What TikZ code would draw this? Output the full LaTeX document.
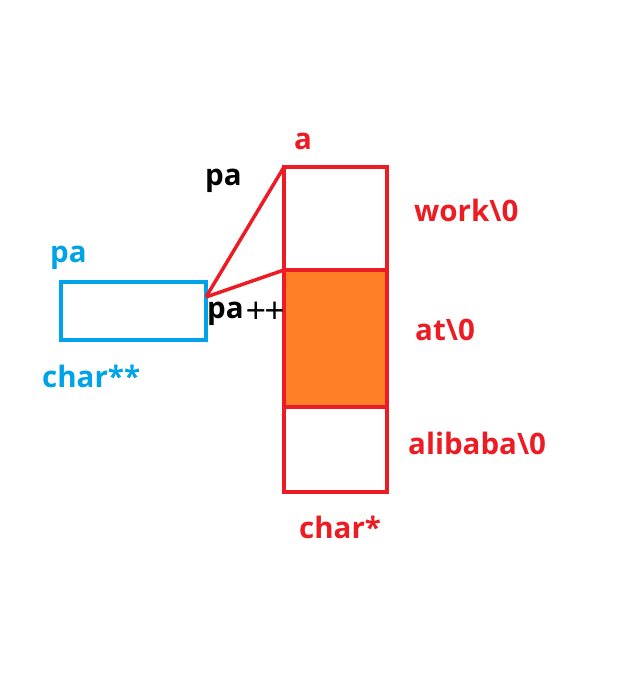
\documentclass[tikz,border=0pt]{standalone}
\usepackage{fontspec}
\setmainfont{Open Sans}
\usetikzlibrary{positioning}
\definecolor{paintred}{RGB}{237,28,36}
\definecolor{paintorange}{RGB}{255,127,39}
\definecolor{paintblue}{RGB}{0,162,232}
\newcommand{\plusplus}{{\mdseries\fontsize{36}{36}\selectfont\raisebox{-5pt}{+\hspace{-2pt}+}}}
\tikzset{
  cell/.style    ={draw=paintred, line width=4pt, minimum width=103pt, inner sep=0pt, outer sep=0pt, anchor=north west},
  ptrbox/.style  ={draw=paintblue, line width=4pt, minimum width=145pt, minimum height=58pt, inner sep=0pt, outer sep=0pt, anchor=north west},
  link/.style    ={draw=paintred, line width=3.5pt},
  lbl/.style     ={font=\bfseries\fontsize{29.5}{31}\selectfont, inner sep=0pt, anchor=base west},
}
\begin{document}
\begin{tikzpicture}[x=1pt,y=-1pt]
\useasboundingbox (0,0) rectangle (617,685);

% char* array
\node[cell,minimum height=103pt] (c0) at (284,167) {};
\node[cell,minimum height=137pt,fill=paintorange] (c1) at (284,270) {};
\node[cell,minimum height=85pt] (c2) at (284,407) {};

% char** pointer
\node[ptrbox] (p) at (61,282) {};
\coordinate (pe) at (206,297);
\draw[link] (pe) -- (c0.north west);
\draw[link] (pe) -- (c1.north west);

% labels
\node[lbl,text=paintred] (la) at (294,149) {a};
\node[lbl] (lpa) at (205,185) {pa};
\node[lbl,text=paintred] (lw) at (414,221) {work\textbackslash 0};
\node[lbl,text=paintblue] (lpb) at (50,262) {pa};
\node[lbl] (lpp) at (207,318) {pa\hspace{2pt}\plusplus};
\node[lbl,text=paintred] (lat) at (415,340) {at\textbackslash 0};
\node[lbl,text=paintblue] (lcc) at (42,387) {char**};
\node[lbl,text=paintred] (lal) at (408,454) {alibaba\textbackslash 0};
\node[lbl,text=paintred] (lc) at (299,538) {char*};
\end{tikzpicture}
\end{document}
